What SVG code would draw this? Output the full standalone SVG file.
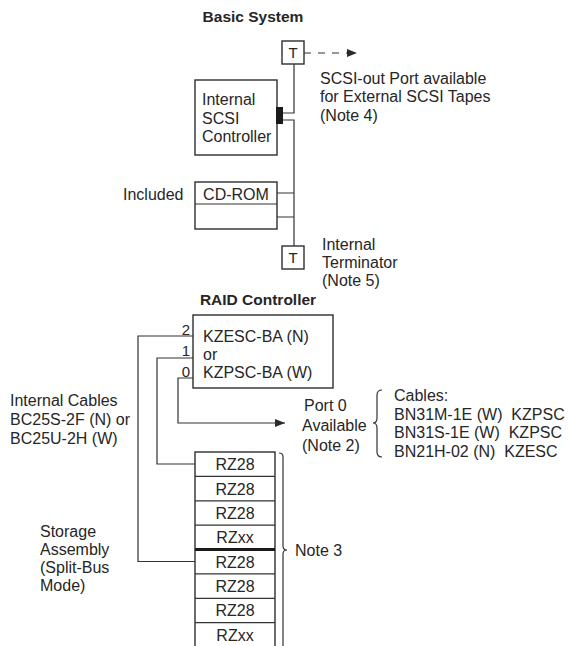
<svg xmlns="http://www.w3.org/2000/svg" width="568" height="646" viewBox="0 0 568 646">
<defs>
<style>
text{font-family:"Liberation Sans",Arial,sans-serif;font-size:16px;fill:#262626}
.b{font-weight:bold;font-size:15.5px}
.c{text-anchor:middle}
.e{text-anchor:end;font-size:15px}
.pre{white-space:pre}
.box{fill:none;stroke:#2e2e2e;stroke-width:1.4}
.ln{fill:none;stroke:#333;stroke-width:1.2}
</style>
<marker id="ah" viewBox="0 0 10 8" refX="10" refY="4" markerWidth="10" markerHeight="8" markerUnits="userSpaceOnUse" orient="auto">
<path d="M0,0 L10,4 L0,8 Z" fill="#2a2a2a"/>
</marker>
</defs>
<rect width="568" height="646" fill="#fff"/>

<text class="b c" x="253" y="22">Basic System</text>
<text class="b c" x="258" y="305">RAID Controller</text>

<g id="connectors">
<path class="ln" d="M294,64 V113 H283"/>
<path class="ln" d="M283,120 H294 V246"/>
<path class="ln" d="M277,193 H294 M277,217 H294"/>
<path class="ln" d="M304,53 H357" stroke-dasharray="7,7" marker-end="url(#ah)"/>
<path class="ln" d="M193,336 H138 V561.5 H195"/>
<path class="ln" d="M193,358 H157 V464 H195"/>
<path class="ln" d="M193,378 H178 V423 H285" marker-end="url(#ah)"/>
</g>

<g id="t-top">
<rect class="box" x="282" y="41" width="22" height="23"/>
<text class="c" x="293" y="58" style="font-size:15px">T</text>
</g>
<g id="scsi-out-label">
<text x="320" y="83.5">SCSI-out Port available</text>
<text x="320" y="102">for External SCSI Tapes</text>
<text x="320" y="120.5">(Note 4)</text>
</g>

<g id="scsi-controller">
<rect class="box" x="195" y="80" width="82" height="75"/>
<text x="202" y="105">Internal</text>
<text x="202" y="124">SCSI</text>
<text x="202" y="142">Controller</text>
<rect x="276" y="107" width="7" height="17" fill="#1a1a1a"/>
</g>

<g id="cdrom">
<text x="123" y="200">Included</text>
<rect class="box" x="195" y="182" width="82" height="47"/>
<line class="ln" x1="195" y1="204" x2="277" y2="204"/>
<text class="c" x="236" y="200">CD-ROM</text>
</g>

<g id="t-bottom">
<rect class="box" x="282" y="246" width="22" height="23"/>
<text class="c" x="293" y="263" style="font-size:15px">T</text>
<text x="322" y="250">Internal</text>
<text x="322" y="268">Terminator</text>
<text x="322" y="286">(Note 5)</text>
</g>

<g id="raid">
<rect class="box" x="193" y="315" width="140" height="73"/>
<text x="203" y="341.5">KZESC-BA (N)</text>
<text x="203" y="359.5">or</text>
<text x="203" y="377.5">KZPSC-BA (W)</text>
<text class="e" x="190" y="334.5">2</text>
<text class="e" x="190" y="356">1</text>
<text class="e" x="190" y="376.5">0</text>
</g>

<g id="port0">
<text x="304" y="411">Port 0</text>
<text x="302" y="431">Available</text>
<text x="302" y="451">(Note 2)</text>
</g>

<g id="cables">
<path class="ln" d="M382,390 Q377,390 377,395 V418 Q377,423 373,423 Q377,423 377,428 V452 Q377,457 382,457"/>
<text x="394" y="401">Cables:</text>
<text class="pre" x="394" y="419.5">BN31M-1E (W)  KZPSC</text>
<text class="pre" x="394" y="438">BN31S-1E (W)  KZPSC</text>
<text class="pre" x="394" y="456.5">BN21H-02 (N)  KZESC</text>
</g>

<g id="internal-cables">
<text x="10" y="405.5">Internal Cables</text>
<text x="10" y="425">BC25S-2F (N) or</text>
<text x="10" y="444">BC25U-2H (W)</text>
</g>

<g id="storage">
<text x="40" y="537">Storage</text>
<text x="40" y="555">Assembly</text>
<text x="40" y="573">(Split-Bus</text>
<text x="40" y="591">Mode)</text>
<rect class="box" x="195" y="452" width="80" height="196"/>
<g class="ln">
<line x1="195" y1="476.4" x2="275" y2="476.4"/>
<line x1="195" y1="500.8" x2="275" y2="500.8"/>
<line x1="195" y1="525.1" x2="275" y2="525.1"/>
<line x1="195" y1="573.9" x2="275" y2="573.9"/>
<line x1="195" y1="598.3" x2="275" y2="598.3"/>
<line x1="195" y1="622.6" x2="275" y2="622.6"/>
</g>
<line x1="195" y1="549.5" x2="275" y2="549.5" stroke="#1a1a1a" stroke-width="3"/>
<text class="c" x="235" y="470">RZ28</text>
<text class="c" x="235" y="494.5">RZ28</text>
<text class="c" x="235" y="519">RZ28</text>
<text class="c" x="235" y="543">RZxx</text>
<text class="c" x="235" y="567.5">RZ28</text>
<text class="c" x="235" y="592">RZ28</text>
<text class="c" x="235" y="616">RZ28</text>
<text class="c" x="235" y="640.5">RZxx</text>
</g>

<g id="note3">
<path class="ln" d="M279,453 Q283,453 283,457 V546 Q283,550 287,550 Q283,550 283,554 V648"/>
<text x="295" y="555.5">Note 3</text>
</g>
</svg>
